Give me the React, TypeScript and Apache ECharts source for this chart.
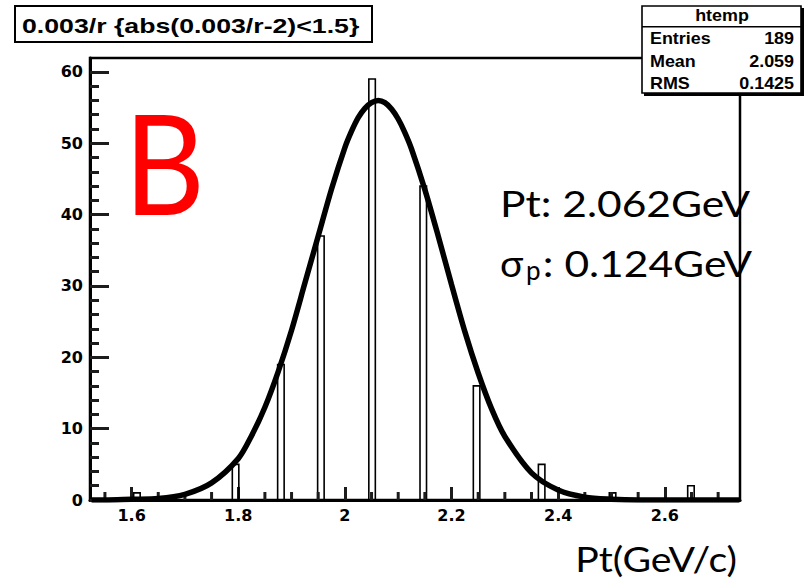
import React, { useEffect, useRef } from "react";
import * as echarts from "echarts";

// Histogram bins (centre of bin, entries)
const binCenters = [1.61, 1.795, 1.88, 1.955, 2.051, 2.147, 2.247, 2.369, 2.502, 2.649];
const binCounts = [1, 5, 19, 37, 59, 44, 16, 5, 1, 2];
const binWidth = 0.0122;

// Fit curve
const curveX = [1.525, 1.55, 1.6, 1.65, 1.7, 1.75, 1.8, 1.825, 1.85, 1.875, 1.9, 1.925, 1.95, 1.975, 2.0, 2.0125, 2.025, 2.0375, 2.05, 2.0625, 2.075, 2.0875, 2.1, 2.1125, 2.125, 2.15, 2.175, 2.2, 2.225, 2.25, 2.275, 2.3, 2.35, 2.4, 2.45, 2.5, 2.55, 2.6, 2.65, 2.7, 2.74];
const curveY = [0, 0, 0.1, 0.2, 0.8, 2.4, 5.8, 9, 13, 18, 23.8, 30.4, 37, 43.6, 49.4, 51.7, 53.6, 54.9, 55.7, 56.0, 55.7, 54.8, 53.4, 51.5, 49.2, 43.5, 37, 30.2, 23.6, 17.8, 12.8, 8.9, 3.8, 1.4, 0.4, 0.1, 0, 0, 0, 0, 0];

// Axes
const xMin = 1.522;
const xMax = 2.741;
const xMajorTicks = [1.6, 1.8, 2, 2.2, 2.4, 2.6];
const xMinorTicks = [1.55, 1.65, 1.7, 1.75, 1.85, 1.9, 1.95, 2.05, 2.1, 2.15, 2.25, 2.3, 2.35, 2.45, 2.5, 2.55, 2.65, 2.7];
const yMin = 0;
const yMax = 61.95;
const yMajorTicks = [0, 10, 20, 30, 40, 50, 60];

// Texts
const titleText = "0.003/r {abs(0.003/r-2)<1.5}";
const statsName = "htemp";
const statsLabels = ["Entries", "Mean", "RMS"];
const statsValues = ["189", "2.059", "0.1425"];
const xTitle = "Pt(GeV/c)";
const panelLetter = "B";
const ptLine = "Pt: 2.062GeV";
const sigmaMain = "σ";
const sigmaSub = "p";
const sigmaRest = ": 0.124GeV";

const ROOT_FONT = "'Liberation Sans', Arial, Helvetica, sans-serif";
const TICK_FONT = "'DejaVu Sans', sans-serif";
const SLIDE_FONT = "Lato, 'Open Sans', sans-serif";
const TICK_COLOR = "#1c1c1c";

export default function App() {
  const ref = useRef<HTMLDivElement>(null);

  useEffect(() => {
    document.body.style.margin = "0";
    if (!ref.current) return;
    const chart = echarts.init(ref.current, undefined, { renderer: "svg" });

    const histData = binCenters.map((c, i) => [c, binCounts[i]]);
    const curveData = curveX.map((x, i) => [x, curveY[i]]);

    const statsRowY = [39.2, 61.8, 84.2];
    const statsTexts: any[] = [];
    statsLabels.forEach((lab, i) => {
      statsTexts.push({
        type: "text",
        x: 650,
        y: statsRowY[i],
        scaleX: 1.12,
        style: { text: lab, fontFamily: ROOT_FONT, fontWeight: "bold", fontSize: 16, fill: "#000", align: "left", verticalAlign: "middle" },
      });
      statsTexts.push({
        type: "text",
        x: 794,
        y: statsRowY[i],
        scaleX: 1.12,
        style: { text: statsValues[i], fontFamily: ROOT_FONT, fontWeight: "bold", fontSize: 16, fill: "#000", align: "right", verticalAlign: "middle" },
      });
    });

    const annotationChildren: any[] = [
      {
        type: "text",
        x: 124,
        y: 161,
        scaleX: 0.9,
        style: { text: panelLetter, fontFamily: SLIDE_FONT, fontSize: 139, fill: "#ff0000", align: "left", verticalAlign: "middle" },
      },
      {
        type: "text",
        x: 500,
        y: 202.4,
        scaleX: 1.15,
        style: { text: ptLine, fontFamily: SLIDE_FONT, fontSize: 37, fill: "#000", align: "left", verticalAlign: "middle" },
      },
      {
        type: "text",
        x: 500,
        y: 262.4,
        scaleX: 1.05,
        style: { text: sigmaMain, fontFamily: SLIDE_FONT, fontSize: 37, fill: "#000", align: "left", verticalAlign: "middle" },
      },
      {
        type: "text",
        x: 526,
        y: 270,
        style: { text: sigmaSub, fontFamily: SLIDE_FONT, fontSize: 26, fill: "#000", align: "left", verticalAlign: "middle" },
      },
      {
        type: "text",
        x: 752,
        y: 262.4,
        scaleX: 1.15,
        style: { text: sigmaRest, fontFamily: SLIDE_FONT, fontSize: 37, fill: "#000", align: "right", verticalAlign: "middle" },
      },
      {
        type: "text",
        x: 737,
        y: 558.2,
        scaleX: 1.12,
        style: { text: xTitle, fontFamily: SLIDE_FONT, fontSize: 35, fill: "#000", align: "right", verticalAlign: "middle" },
      },
      { type: "rect", shape: { x: 15, y: 6, width: 357, height: 36 }, style: { fill: "#fff", stroke: "#000", lineWidth: 2 } },
      {
        type: "text",
        x: 22,
        y: 25.8,
        scaleX: 1.27,
        style: { text: titleText, fontFamily: ROOT_FONT, fontWeight: "bold", fontSize: 21, fill: "#000", align: "left", verticalAlign: "middle" },
      },
      { type: "rect", shape: { x: 644, y: 8, width: 160, height: 88 }, style: { fill: "#000" } },
      { type: "rect", shape: { x: 642, y: 6, width: 159, height: 87 }, style: { fill: "#fff", stroke: "#000", lineWidth: 1.6 } },
      { type: "line", shape: { x1: 642, y1: 26.7, x2: 801, y2: 26.7 }, style: { stroke: "#000", lineWidth: 1.6 } },
      {
        type: "text",
        x: 722,
        y: 15.5,
        scaleX: 1.12,
        style: { text: statsName, fontFamily: ROOT_FONT, fontWeight: "bold", fontSize: 16, fill: "#000", align: "center", verticalAlign: "middle" },
      },
      ...statsTexts,
    ];

    const option: any = {
      animation: false,
      backgroundColor: "#fff",
      grid: { left: 90, right: 66, top: 58, bottom: 80, show: true, borderColor: "#000", borderWidth: 2.5, backgroundColor: "transparent" },
      xAxis: {
        type: "value",
        min: xMin,
        max: xMax,
        axisLine: { show: true, onZero: false, lineStyle: { color: "#000", width: 3 } },
        axisTick: { show: true, inside: true, length: 13, customValues: xMajorTicks, lineStyle: { color: TICK_COLOR, width: 3 } },
        axisLabel: { customValues: xMajorTicks, margin: 7, fontFamily: TICK_FONT, fontWeight: "bold", fontSize: 16, color: "#000" },
        splitLine: { show: false },
      },
      yAxis: {
        type: "value",
        min: yMin,
        max: yMax,
        axisLine: { show: true, onZero: false, lineStyle: { color: "#000", width: 3 } },
        axisTick: { show: true, inside: true, length: 19, customValues: yMajorTicks, lineStyle: { color: TICK_COLOR, width: 3 } },
        minorTick: { show: true, splitNumber: 5, length: 9, lineStyle: { color: TICK_COLOR, width: 3 } },
        axisLabel: { customValues: yMajorTicks, margin: 7, fontFamily: TICK_FONT, fontWeight: "bold", fontSize: 16, color: "#000" },
        splitLine: { show: false },
      },
      series: [
        {
          type: "custom",
          name: "xMinorTicks",
          data: xMinorTicks.map((v) => [v, 0]),
          encode: { x: 0, y: 1 },
          clip: false,
          z: 4,
          renderItem: (params: any, api: any) => {
            const p = api.coord([api.value(0), api.value(1)]);
            return { type: "rect", shape: { x: p[0] - 1.5, y: p[1] - 8, width: 3, height: 8 }, style: { fill: TICK_COLOR } };
          },
        },
        {
          type: "custom",
          name: "htemp",
          data: histData,
          encode: { x: 0, y: 1 },
          z: 2,
          renderItem: (params: any, api: any) => {
            const c = api.value(0);
            const h = api.value(1);
            const p0 = api.coord([c - binWidth / 2, h]);
            const p1 = api.coord([c + binWidth / 2, 0]);
            return { type: "rect", shape: { x: p0[0], y: p0[1], width: p1[0] - p0[0], height: p1[1] - p0[1] }, style: { fill: "none", stroke: "#000", lineWidth: 1.6 } };
          },
        },
        { type: "line", name: "fit", data: curveData, smooth: 0.3, showSymbol: false, symbol: "none", z: 5, lineStyle: { color: "#000", width: 5.5 } },
        {
          type: "custom",
          name: "annotations",
          data: [[xMin, yMin]],
          encode: { x: 0, y: 1 },
          clip: false,
          silent: true,
          z: 10,
          renderItem: () => ({ type: "group", children: annotationChildren }),
        },
      ],
    };

    chart.setOption(option);
    return () => chart.dispose();
  }, []);

  return <div ref={ref} style={{ width: 806, height: 580 }} />;
}
